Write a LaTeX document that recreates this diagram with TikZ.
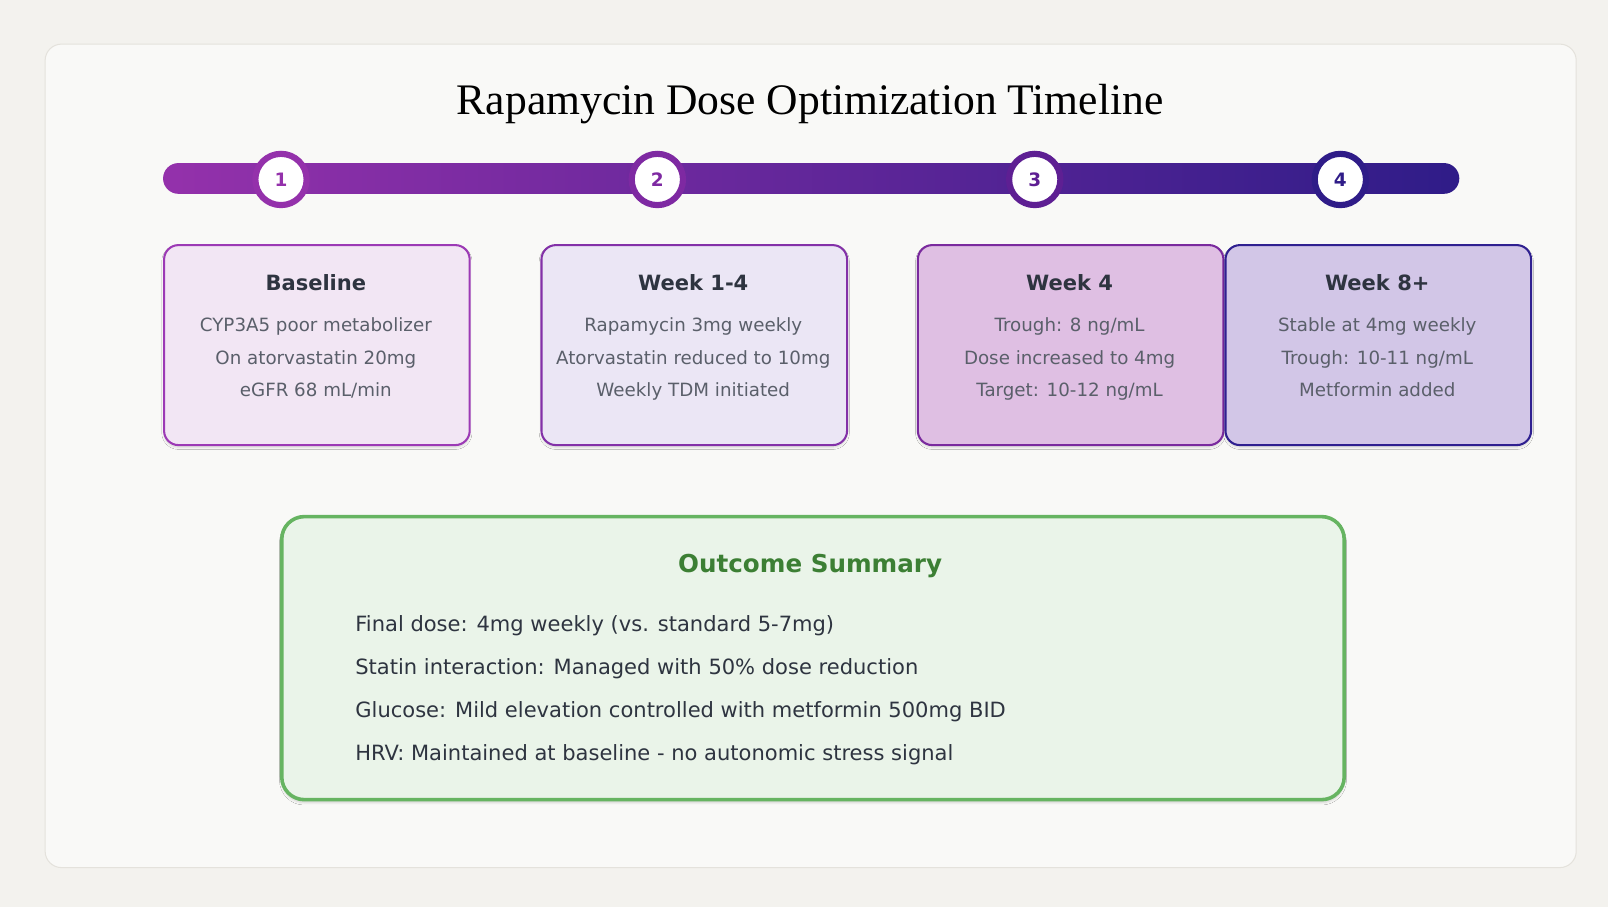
\documentclass[tikz,border=0pt]{standalone}
\usepackage{fontspec}
\setmainfont{DejaVu Sans}
\newfontfamily\titlefont{Liberation Serif}
\usetikzlibrary{shadows.blur}
\definecolor{bgout}{HTML}{F3F2EE}
\definecolor{panel}{HTML}{F9F9F7}
\definecolor{panelline}{HTML}{E4E2DC}
\definecolor{txt}{HTML}{2E3440}
\definecolor{sub}{HTML}{5A5F6A}
\definecolor{cA}{HTML}{9431AB}
\definecolor{cB}{HTML}{7E29A2}
\definecolor{cC}{HTML}{5E1F93}
\definecolor{cD}{HTML}{2F1C88}
\definecolor{fA}{HTML}{F2E6F4}
\definecolor{fB}{HTML}{EBE6F5}
\definecolor{fC}{HTML}{DFBFE3}
\definecolor{fD}{HTML}{D2C6E7}
\definecolor{bA}{HTML}{9C3AB5}
\definecolor{bB}{HTML}{8331A8}
\definecolor{bC}{HTML}{7A2A9E}
\definecolor{bD}{HTML}{2F2090}
\definecolor{gfill}{HTML}{EAF4E9}
\definecolor{gline}{HTML}{66B461}
\definecolor{gtxt}{HTML}{3C7F34}
\tikzset{x=1pt,y=-1pt,
  stepcard/.style={draw, line width=2pt, rounded corners=14pt, minimum width=298pt, minimum height=195pt, anchor=north west, blur shadow={shadow blur steps=6,shadow xshift=0pt,shadow yshift=-2pt,shadow opacity=15}},
  dot/.style={circle, fill=white, line width=6pt, minimum size=50pt, inner sep=0pt, font=\fontsize{18}{22}\selectfont\bfseries},
  cardtitle/.style={font=\fontsize{20.5}{24}\selectfont\bfseries, text=txt, anchor=base},
  cardline/.style={font=\fontsize{17.8}{20}\selectfont, text=sub, anchor=base},
  sumline/.style={font=\fontsize{20.5}{22}\selectfont, text=txt, anchor=base west}}
\begin{document}
\begin{tikzpicture}
\fill[bgout] (0,0) rectangle (1568,884);
\useasboundingbox (0,0) rectangle (1568,884);
\draw[panelline, fill=panel, rounded corners=16pt, line width=1pt] (44,43) rectangle (1537,846);
\node[font=\titlefont\fontsize{42.5}{46}\selectfont, text=black, anchor=base] (title) at (790,112) {Rapamycin Dose Optimization Timeline};
% bar
\shade[left color=cA, right color=cD, rounded corners=15pt] (159,159) rectangle (1423,189);
\node[dot, draw=cA, text=cA] (d1) at (274,175) {1};
\node[dot, draw=cB, text=cB] (d2) at (641,175) {2};
\node[dot, draw=cC, text=cC] (d3) at (1009,175) {3};
\node[dot, draw=cD, text=cD] (d4) at (1307,175) {4};
% cards
\node[stepcard, draw=bA, fill=fA] (c1) at (159,238) {};
\node[stepcard, draw=bB, fill=fB] (c2) at (527,238) {};
\node[stepcard, draw=bC, fill=fC] (c3) at (894,238) {};
\node[stepcard, draw=bD, fill=fD] (c4) at (1194,238) {};
\node[cardtitle] (t1) at (308,283) {Baseline};
\node[cardline] (l11) at (308,323) {CYP3A5 poor metabolizer};
\node[cardline] (l12) at (308,355) {On atorvastatin 20mg};
\node[cardline] (l13) at (308,387) {eGFR 68 mL/min};
\node[cardtitle] (t2) at (676,283) {Week 1-4};
\node[cardline] (l21) at (676,323) {Rapamycin 3mg weekly};
\node[cardline] (l22) at (676,355) {Atorvastatin reduced to 10mg};
\node[cardline] (l23) at (676,387) {Weekly TDM initiated};
\node[cardtitle] (t3) at (1043,283) {Week 4};
\node[cardline] (l31) at (1043,323) {Trough: 8 ng/mL};
\node[cardline] (l32) at (1043,355) {Dose increased to 4mg};
\node[cardline] (l33) at (1043,387) {Target: 10-12 ng/mL};
\node[cardtitle] (t4) at (1343,283) {Week 8+};
\node[cardline] (l41) at (1343,323) {Stable at 4mg weekly};
\node[cardline] (l42) at (1343,355) {Trough: 10-11 ng/mL};
\node[cardline] (l43) at (1343,387) {Metformin added};
% summary
\node[draw=gline, fill=gfill, line width=3.5pt, rounded corners=22pt, minimum width=1036pt, minimum height=276pt, anchor=north west, blur shadow={shadow blur steps=6,shadow xshift=0pt,shadow yshift=-3pt,shadow opacity=15}] (sum) at (273,502) {};
\node[font=\fontsize{24}{28}\selectfont\bfseries, text=gtxt, anchor=base] (st) at (790,558) {Outcome Summary};
\node[sumline] (s1) at (343,616) {Final dose: 4mg weekly (vs. standard 5-7mg)};
\node[sumline] (s2) at (343,658) {Statin interaction: Managed with 50\% dose reduction};
\node[sumline] (s3) at (343,700) {Glucose: Mild elevation controlled with metformin 500mg BID};
\node[sumline] (s4) at (343,742) {HRV: Maintained at baseline - no autonomic stress signal};
\end{tikzpicture}
\end{document}
